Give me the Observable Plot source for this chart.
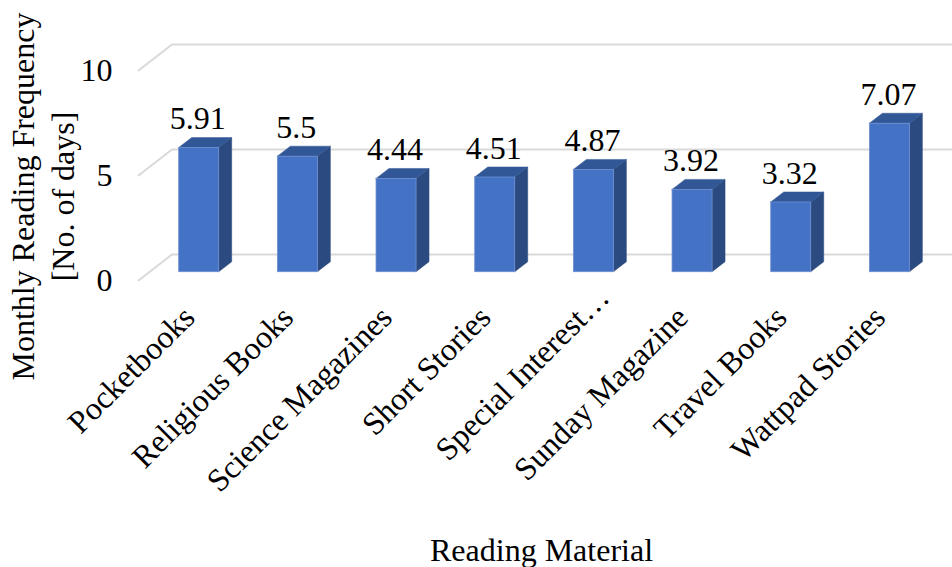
<!DOCTYPE html>
<html>
<head>
<meta charset="utf-8">
<style>html,body{margin:0;padding:0;background:#fff}svg{display:block}</style>
<script src="https://cdn.jsdelivr.net/npm/d3@7"></script>
<script src="https://cdn.jsdelivr.net/npm/@observablehq/plot@0.6"></script>
</head>
<body>
<div id="chart"></div>
<script>
const categories = ["Pocketbooks","Religious Books","Science Magazines","Short Stories","Special Interest…","Sunday Magazine","Travel Books","Wattpad Stories"];
const values = [5.91,5.5,4.44,4.51,4.87,3.92,3.32,7.07];
const valueLabels = ["5.91","5.5","4.44","4.51","4.87","3.92","3.32","7.07"];
const ticks = [0,5,10];
const FONT = "Liberation Serif";
const W = 952, H = 567;
// pixel-to-data calibration of the pseudo-3D projection
const pxPerCat = 98.67, pxPerUnit = 21;
const x0 = 198.7, y0 = 271.7;
const halfBar = 20 / pxPerCat;
const depthX = 13 / pxPerCat, depthY = 10 / pxPerUnit;
const wallX = 33.5 / pxPerCat, wallY = 26 / pxPerUnit;     // side wall extent
const wallFrontX = (138 - x0) / pxPerCat, wallFrontY = (271.7 - 280) / pxPerUnit;
const xDom = [(0 - x0) / pxPerCat, (W - x0) / pxPerCat];
const yDom = [(y0 - H) / pxPerUnit, y0 / pxPerUnit];
const xMax = xDom[1];

const grid = ticks.flatMap(t => [
  {t, x: wallFrontX, y: t + wallFrontY},
  {t, x: wallFrontX + wallX, y: t + wallFrontY + wallY},
  {t, x: xMax, y: t + wallFrontY + wallY}
]);
const bars = categories.map((c, i) => ({c, i, v: values[i], label: valueLabels[i], x1: i - halfBar, x2: i + halfBar}));
const sideFaces = bars.flatMap(b => [
  {c: b.c, x: b.x2, y1: 0, y2: b.v},
  {c: b.c, x: b.x2 + depthX, y1: depthY, y2: b.v + depthY}
]);
const topFaces = bars.flatMap(b => [
  {c: b.c, x: b.x1, y1: b.v, y2: b.v},
  {c: b.c, x: b.x1 + depthX, y1: b.v, y2: b.v + depthY},
  {c: b.c, x: b.x2, y1: b.v, y2: b.v + depthY},
  {c: b.c, x: b.x2 + depthX, y1: b.v + depthY, y2: b.v + depthY}
]);
const isTruncated = d => d.c.endsWith("…");

const plot = Plot.plot({
  width: W, height: H,
  marginTop: 0, marginRight: 0, marginBottom: 0, marginLeft: 0,
  style: {fontFamily: FONT, background: "#fff"},
  x: {type: "linear", domain: xDom, axis: null},
  y: {type: "linear", domain: yDom, axis: null},
  marks: [
    Plot.line(grid, {x: "x", y: "y", z: "t", stroke: "#d9d9d9", strokeWidth: 2, curve: "linear"}),
    Plot.areaY(sideFaces, {x: "x", y1: "y1", y2: "y2", z: "c", fill: "#2b4a80", stroke: "#2b4a80", strokeWidth: 0.5}),
    Plot.areaY(topFaces, {x: "x", y1: "y1", y2: "y2", z: "c", fill: "#325796", stroke: "#325796", strokeWidth: 0.5}),
    Plot.rect(bars, {x1: "x1", x2: "x2", y1: 0, y2: "v", fill: "#4472c4", stroke: "#6f90d2", strokeWidth: 0.8}),
    Plot.text(bars, {x: "i", y: "v", text: "label", dx: -1.5, dy: -29, fontSize: 32, fill: "#000"}),
    Plot.text(ticks, {x: wallFrontX, y: d => d + wallFrontY, text: d => String(d), textAnchor: "end", dx: -26, dy: 0, fontSize: 32, fill: "#000"}),
    Plot.text(bars.filter(d => !isTruncated(d)), {x: "i", y: 0, text: "c", rotate: -45, textAnchor: "end", dx: -10, dy: 40, fontSize: 32, fill: "#000"}),
    Plot.text(bars.filter(isTruncated), {x: "i", y: 0, text: "c", rotate: -45, textAnchor: "end", dx: 10, dy: 20, fontSize: 32, fill: "#000"}),
    Plot.text(["Reading Material"], {frameAnchor: "bottom", dx: 65, dy: -7, fontSize: 32, fill: "#000"}),
    Plot.text(["Monthly Reading Frequency\n[No. of days]"], {frameAnchor: "left", textAnchor: "middle", rotate: -90, dx: 41, dy: -87.5, fontSize: 32, lineHeight: 1.25, fill: "#000"})
  ]
});
document.getElementById("chart").append(plot);
</script>
</body>
</html>
